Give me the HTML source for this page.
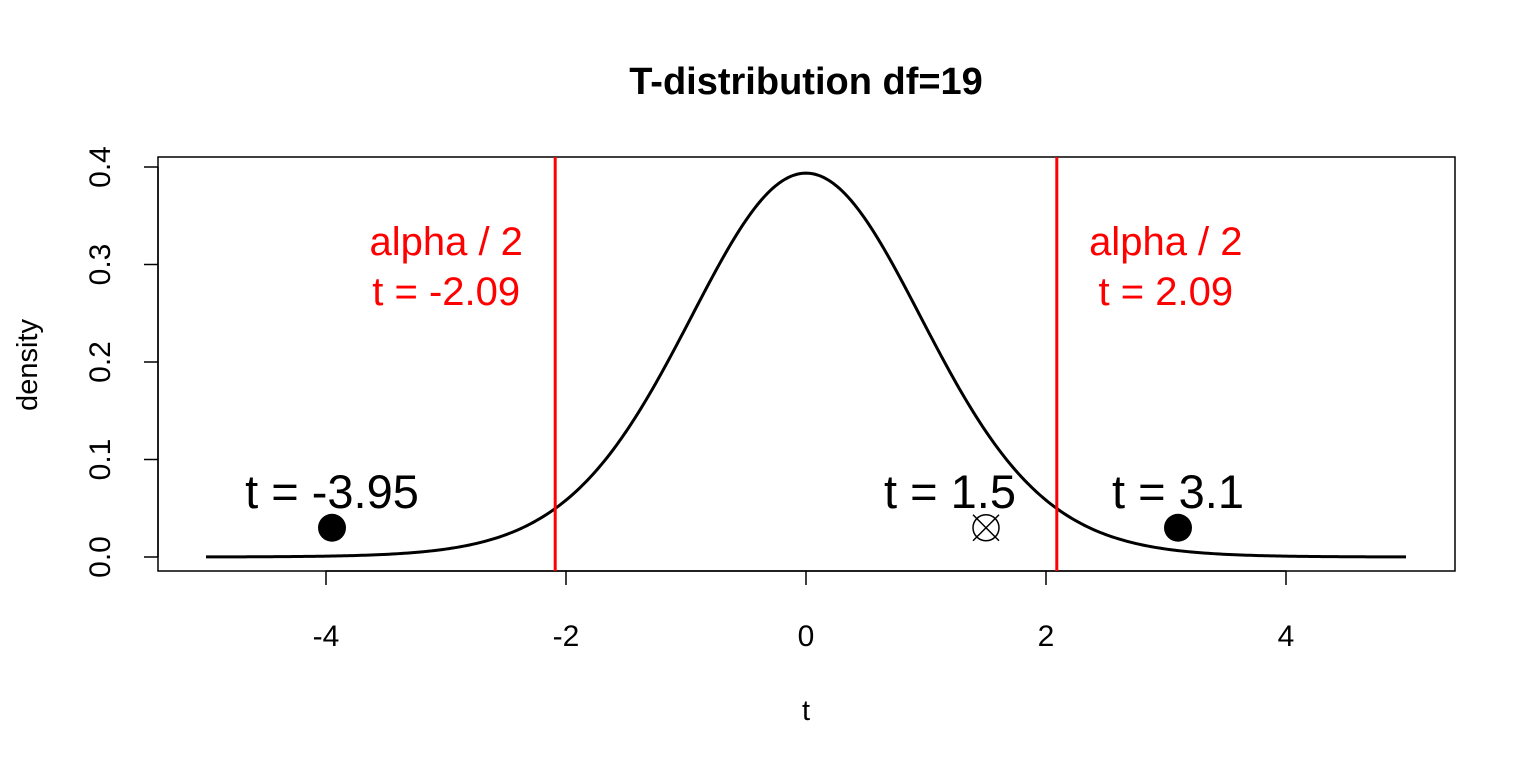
<!DOCTYPE html>
<html><head><meta charset="utf-8"><style>
body{margin:0;background:#fff}
svg text{font-family:"Liberation Sans",Arial,sans-serif}
</style></head><body>
<svg id="chart" width="1536" height="768" viewBox="0 0 1536 768" xmlns="http://www.w3.org/2000/svg">
<rect width="1536" height="768" fill="#fff"/>
<text x="806" y="94" text-anchor="middle" font-size="38" font-weight="bold">T-distribution df=19</text>
<rect x="158" y="157" width="1297" height="414" fill="none" stroke="#000" stroke-width="1.5"/>
<g id="xaxis"></g>
<g id="yaxis"></g>
<text x="806" y="720" text-anchor="middle" font-size="29">t</text>
<text transform="translate(37,365) rotate(-90)" text-anchor="middle" font-size="29">density</text>
<g id="marks"></g>
</svg>
<script>
const df = 19;
const xTicks = [-4, -2, 0, 2, 4];
const yTicks = [0.0, 0.1, 0.2, 0.3, 0.4];
const critT = [-2.09, 2.09];
const critLabels = ["t = -2.09", "t = 2.09"];
const pointT = [-3.95, 1.5, 3.1];
const pointY = [0.03, 0.03, 0.03];
const labelT = [-3.95, 1.2, 3.1];
const pointLabels = ["t = -3.95", "t = 1.5", "t = 3.1"];
const pointFilled = [true, false, true];
const xRange = [-5, 5];

const NS = "http://www.w3.org/2000/svg";
const X = v => 806 + v * 120;
const Y = v => 557 - v * 975;
function mk(tag, attrs, parent) {
  const e = document.createElementNS(NS, tag);
  for (const k in attrs) e.setAttribute(k, attrs[k]);
  parent.appendChild(e); return e;
}
function lgamma(z){const g=7,c=[0.99999999999980993,676.5203681218851,-1259.1392167224028,771.32342877765313,-176.61503916999185,12.507343278686905,-0.13857109526572012,9.9843695780195716e-6,1.5056327351493116e-7];z-=1;let x=c[0];for(let i=1;i<9;i++)x+=c[i]/(z+i);const t=z+g+0.5;return 0.5*Math.log(2*Math.PI)+(z+0.5)*Math.log(t)-t+Math.log(x);}
function dt(t){return Math.exp(lgamma((df+1)/2)-lgamma(df/2))/Math.sqrt(df*Math.PI)*Math.pow(1+t*t/df,-(df+1)/2);}

const xa = document.getElementById('xaxis');
mk('line',{x1:X(xTicks[0]),x2:X(xTicks[xTicks.length-1]),y1:571,y2:571,stroke:'#000','stroke-width':1.5},xa);
xTicks.forEach(v=>{
  const l=mk('line',{x1:X(v),x2:X(v),y1:571,y2:585,stroke:'#000','stroke-width':1.5},xa);
  
  
  const t=mk('text',{x:X(v),y:646,'text-anchor':'middle','font-size':30},xa);
  t.textContent=v;
  
  
});
const ya = document.getElementById('yaxis');
mk('line',{x1:158,x2:158,y1:Y(yTicks[0]),y2:Y(yTicks[yTicks.length-1]),stroke:'#000','stroke-width':1.5},ya);
yTicks.forEach(v=>{
  const l=mk('line',{x1:144,x2:158,y1:Y(v),y2:Y(v),stroke:'#000','stroke-width':1.5},ya);
  
  
  const t=mk('text',{transform:`translate(110,${Y(v)}) rotate(-90)`,'text-anchor':'middle','font-size':30},ya);
  t.textContent=v.toFixed(1);
  
  
});

const m = document.getElementById('marks');
let d='';
for(let i=0;i<=400;i++){const t=xRange[0]+(xRange[1]-xRange[0])*i/400;d+=(i?'L':'M')+X(t).toFixed(2)+','+Y(dt(t)).toFixed(2);}
const curve=mk('path',{d:d,fill:'none',stroke:'#000','stroke-width':3},m);



critT.forEach((v,i)=>{
  const l=mk('line',{x1:X(v),x2:X(v),y1:157,y2:571,stroke:'#ff0000','stroke-width':3},m);
  
  
  const cx = X(v) + (v<0 ? -109 : 109);
  const a=mk('text',{x:cx,y:255,'text-anchor':'middle','font-size':40,fill:'#ff0000'},m);
  a.textContent='alpha / 2';
  
  
  const b=mk('text',{x:cx,y:305,'text-anchor':'middle','font-size':40,fill:'#ff0000'},m);
  b.textContent=critLabels[i];
  
  
});

pointT.forEach((v,i)=>{
  const cx=X(v), cy=Y(pointY[i]);
  if(pointFilled[i]){
    const c=mk('circle',{cx:cx,cy:cy,r:14,fill:'#000'},m);
    
    
  } else {
    const g=mk('g',{},m);
    
    
    mk('circle',{cx:cx,cy:cy,r:13,fill:'none',stroke:'#000','stroke-width':1.5},g);
    mk('line',{x1:cx-13,y1:cy-13,x2:cx+13,y2:cy+13,stroke:'#000','stroke-width':1.5},g);
    mk('line',{x1:cx-13,y1:cy+13,x2:cx+13,y2:cy-13,stroke:'#000','stroke-width':1.5},g);
  }
  const t=mk('text',{x:X(labelT[i]),y:cy-20,'text-anchor':'middle','font-size':47},m);
  t.textContent=pointLabels[i];
  
  
});
</script>
</body></html>
